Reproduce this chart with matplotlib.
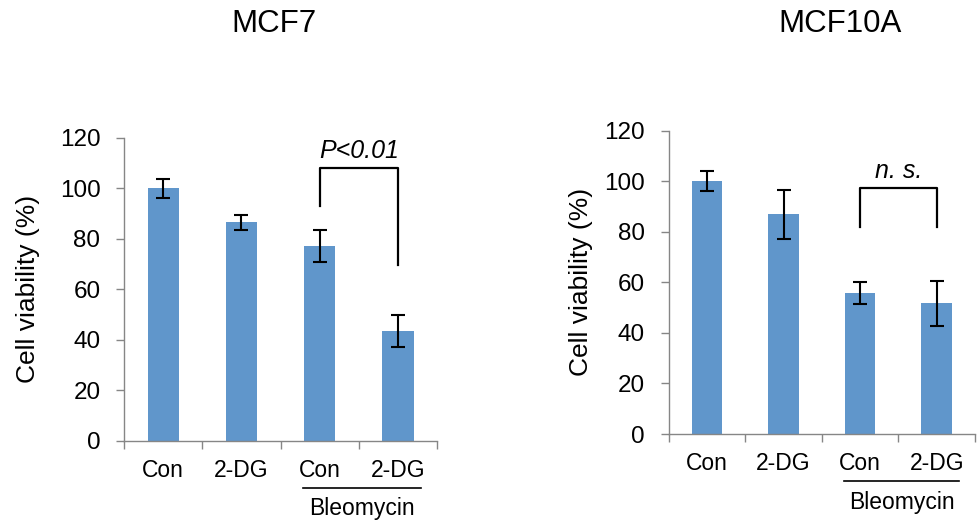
import matplotlib
matplotlib.use("Agg")
import matplotlib.pyplot as plt
import matplotlib.transforms as mtransforms

plt.rcParams['font.family'] = ['Liberation Sans', 'DejaVu Sans']

# data
groups = ["Con", "2-DG", "Con", "2-DG"]
mcf7_mean = [100.0, 86.5, 77.3, 43.6]
mcf7_err = [3.9, 3.0, 6.3, 6.3]
mcf10a_mean = [100.0, 86.9, 55.8, 51.7]
mcf10a_err = [4.0, 9.7, 4.3, 9.0]
yticks = [0, 20, 40, 60, 80, 100, 120]

bar_col = "#6096CB"
axis_col = "#868686"

fig = plt.figure(figsize=(9.79, 5.25), dpi=100)


def draw_panel(rect, means, errs, bracket, label, ylab_x):
    ax = fig.add_axes(rect)
    pos = [1, 2, 3, 4]
    ax.bar(pos, means, width=0.4, color=bar_col, zorder=2)
    ax.errorbar(pos, means, yerr=errs, fmt="none", ecolor="black",
                elinewidth=1.5, capsize=5, capthick=1.5, zorder=3)
    ax.set_xlim(0.5, 4.5)
    ax.set_ylim(0, 120)
    ax.set_yticks(yticks)
    ax.tick_params(axis="y", labelsize=17.5, length=6, width=1,
                   color=axis_col, pad=11)
    # boundaries carry the ticks, centres carry the labels
    ax.set_xticks([0.5, 1.5, 2.5, 3.5, 4.5])
    ax.set_xticklabels([])
    ax.tick_params(axis="x", which="major", length=6, width=1, color=axis_col)
    ax.set_xticks(pos, minor=True)
    ax.set_xticklabels(groups, minor=True)
    ax.tick_params(axis="x", which="minor", length=0, labelsize=16.5, pad=13)
    for s in ["top", "right"]:
        ax.spines[s].set_visible(False)
    for s in ["left", "bottom"]:
        ax.spines[s].set_color(axis_col)
        ax.spines[s].set_linewidth(1)
    ax.set_ylabel("Cell viability (%)", fontsize=19)
    ax.yaxis.set_label_coords(ylab_x, 0.5)

    # significance bracket
    top, left_end, right_end = bracket
    ax.plot([3, 3, 4, 4], [left_end, top, top, right_end], color="black",
            lw=1.6, clip_on=False, zorder=4)
    ax.text(3.5, top + 2, label, style="italic", fontsize=18,
            ha="center", va="bottom")

    # Bleomycin underline
    trans = mtransforms.blended_transform_factory(ax.transData, ax.transAxes)
    ax.plot([2.79, 4.29], [-0.155, -0.155], color="black", lw=1.2,
            transform=trans, clip_on=False)
    ax.text(3.54, -0.225, "Bleomycin", fontsize=16.5, ha="center",
            va="center", transform=trans)
    return ax


draw_panel([0.1267, 0.1606, 0.3197, 0.5766], mcf7_mean, mcf7_err,
           (108, 92.9, 69.7), "P<0.01", -0.268)
draw_panel([0.683, 0.1733, 0.3129, 0.5777], mcf10a_mean, mcf10a_err,
           (97.3, 82, 82), "n. s.", -0.247)

fig.text(274 / 979, 1 - 24.5 / 525, "MCF7", fontsize=22.5,
         ha="center", va="center")
fig.text(840 / 979, 1 - 24.5 / 525, "MCF10A", fontsize=22.5,
         ha="center", va="center")

fig.savefig("out.png", dpi=100)
